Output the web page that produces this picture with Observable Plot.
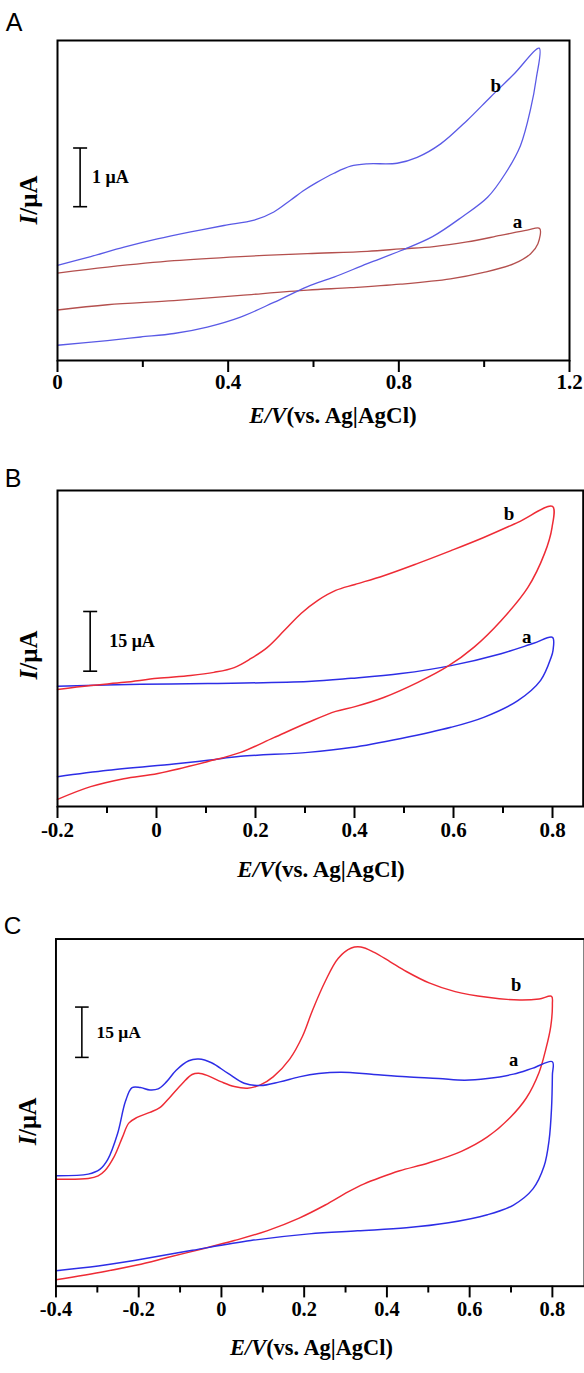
<!DOCTYPE html>
<html><head><meta charset="utf-8">
<script src="https://cdn.jsdelivr.net/npm/d3@7"></script>
<script src="https://cdn.jsdelivr.net/npm/@observablehq/plot@0.6"></script>
<style>
body{margin:0;background:#fff}
#wrap{width:584px;height:1373px;overflow:hidden;position:relative;background:#fff}
#wrap svg{position:absolute;left:0;display:block}
</style></head><body><div id="wrap"></div>
<script>
// ---------- Panel A data ----------
const aMajor = [0, 0.4, 0.8, 1.2];
const aMajorLabels = ["0", "0.4", "0.8", "1.2"];
const aMinor = [0.2, 0.6, 1.0];
const aB_E = [0, 0.078, 0.156, 0.234, 0.312, 0.390, 0.461, 0.507, 0.546, 0.578, 0.607, 0.648, 0.687, 0.726, 0.796, 0.843, 0.898, 0.960, 1.015, 1.070, 1.129, 1.122, 1.109, 1.085, 1.050, 1.008, 0.949, 0.879, 0.804, 0.726, 0.648, 0.586, 0.507, 0.429, 0.351, 0.273, 0.195, 0.117, 0];
const aB_I = [1.62, 1.77, 1.93, 2.07, 2.19, 2.30, 2.39, 2.53, 2.73, 2.90, 3.03, 3.19, 3.31, 3.35, 3.36, 3.46, 3.69, 4.09, 4.49, 4.88, 5.32, 4.80, 4.29, 3.66, 3.19, 2.78, 2.45, 2.11, 1.87, 1.65, 1.42, 1.26, 0.99, 0.74, 0.57, 0.46, 0.40, 0.34, 0.26];
const aA_E = [0, 0.117, 0.273, 0.429, 0.586, 0.726, 0.804, 0.882, 0.960, 1.038, 1.101, 1.130, 1.126, 1.109, 1.070, 0.999, 0.921, 0.804, 0.687, 0.586, 0.429, 0.273, 0.117, 0];
const aA_I = [1.49, 1.59, 1.70, 1.77, 1.82, 1.86, 1.90, 1.94, 2.02, 2.13, 2.22, 2.25, 1.99, 1.82, 1.65, 1.50, 1.39, 1.30, 1.24, 1.20, 1.11, 1.02, 0.95, 0.86];
const aBar = {E: 0.053, I0: 2.62, len: 1, label: "1 μA"};
const aCurveLabels = [{t: "b", E: 1.027, I: 4.685}, {t: "a", E: 1.078, I: 2.368}];

// ---------- Panel B data ----------
const bMajor = [-0.2, 0, 0.2, 0.4, 0.6, 0.8];
const bMajorLabels = ["-0.2", "0", "0.2", "0.4", "0.6", "0.8"];
const bMinor = [-0.1, 0.1, 0.3, 0.5, 0.7];
const bB_E = [-0.200, -0.133, -0.065, 0.002, 0.069, 0.116, 0.157, 0.191, 0.224, 0.258, 0.292, 0.326, 0.362, 0.401, 0.459, 0.528, 0.595, 0.661, 0.730, 0.800, 0.799, 0.784, 0.750, 0.696, 0.641, 0.588, 0.528, 0.459, 0.401, 0.362, 0.306, 0.237, 0.170, 0.104, 0.003, -0.066, -0.133, -0.200];
const bB_I = [29.4, 30.4, 31.2, 32.2, 32.9, 33.7, 34.9, 37.2, 40.0, 44.2, 48.5, 51.8, 54.3, 55.8, 58.0, 61.1, 64.3, 67.6, 71.4, 75.4, 70.1, 63.6, 55.0, 46.7, 40.0, 35.2, 31.2, 27.4, 25.1, 23.9, 21.1, 17.3, 13.6, 11.3, 8.3, 7.0, 5.0, 1.8];
const bA_E = [-0.200, -0.032, 0.104, 0.306, 0.393, 0.494, 0.595, 0.696, 0.762, 0.800, 0.801, 0.797, 0.776, 0.730, 0.661, 0.595, 0.494, 0.393, 0.306, 0.170, 0.104, 0.035, -0.098, -0.200];
const bA_I = [30.2, 30.7, 30.9, 31.4, 32.2, 33.4, 35.4, 38.4, 41.0, 42.5, 39.2, 37.4, 31.7, 26.6, 22.4, 19.9, 17.1, 14.8, 13.6, 12.6, 11.6, 10.7, 9.1, 7.5];
const bBar = {E: -0.134, I0: 34.0, len: 15, label: "15 μA"};
const bCurveLabels = [{t: "b", E: 0.712, I: 73.6}, {t: "a", E: 0.748, I: 42.7}];

// ---------- Panel C data ----------
const cMajor = [-0.4, -0.2, 0, 0.2, 0.4, 0.6, 0.8];
const cMajorLabels = ["-0.4", "-0.2", "0", "0.2", "0.4", "0.6", "0.8"];
const cMinor = [-0.3, -0.1, 0.1, 0.3, 0.5, 0.7];
const cB_E = [-0.400, -0.322, -0.298, -0.282, -0.259, -0.239, -0.224, -0.204, -0.173, -0.149, -0.126, -0.094, -0.071, -0.055, -0.032, 0.000, 0.031, 0.063, 0.094, 0.125, 0.165, 0.196, 0.220, 0.251, 0.282, 0.314, 0.337, 0.368, 0.408, 0.447, 0.502, 0.565, 0.643, 0.721, 0.768, 0.798, 0.800, 0.796, 0.784, 0.768, 0.737, 0.698, 0.643, 0.580, 0.502, 0.431, 0.384, 0.345, 0.306, 0.251, 0.188, 0.110, 0.031, -0.047, -0.126, -0.204, -0.282, -0.400];
const cB_I = [31.9, 32.1, 32.9, 34.4, 38.7, 44.5, 48.6, 50.3, 51.8, 53.2, 56.1, 60.5, 63.1, 63.5, 62.7, 60.9, 59.5, 59.0, 60.0, 62.4, 67.7, 74.5, 82.2, 90.9, 97.7, 100.8, 101.1, 99.6, 96.7, 93.8, 90.4, 87.8, 86.1, 85.3, 85.6, 86.4, 84.1, 77.4, 70.6, 63.8, 56.1, 50.3, 44.5, 40.2, 36.8, 34.4, 32.4, 30.5, 28.1, 24.2, 20.3, 16.5, 13.6, 11.1, 8.7, 6.3, 4.4, 1.9];
const cA_E = [-0.400, -0.322, -0.294, -0.275, -0.251, -0.232, -0.216, -0.196, -0.173, -0.153, -0.133, -0.110, -0.079, -0.055, -0.024, 0.016, 0.055, 0.094, 0.141, 0.188, 0.235, 0.290, 0.368, 0.447, 0.525, 0.588, 0.643, 0.706, 0.753, 0.800, 0.800, 0.798, 0.792, 0.780, 0.753, 0.706, 0.643, 0.549, 0.447, 0.329, 0.212, 0.071, -0.070, -0.204, -0.298, -0.400];
const cA_I = [32.9, 33.4, 34.8, 37.7, 45.5, 55.1, 59.2, 59.2, 58.5, 58.8, 60.9, 64.3, 67.2, 67.7, 66.6, 63.4, 60.5, 59.8, 60.9, 62.4, 63.4, 63.8, 63.1, 62.4, 61.9, 61.4, 61.9, 63.2, 65.0, 66.9, 62.9, 53.2, 43.5, 35.8, 29.0, 24.2, 21.3, 18.9, 17.4, 16.5, 15.6, 13.6, 10.7, 7.8, 6.0, 4.6];
const cBar = {E: -0.3374, I0: 68.2, len: 15, label: "15 μA"};
const cCurveLabels = [{t: "b", E: 0.7125, I: 89.8}, {t: "a", E: 0.7066, I: 67.5}];

const zip = (E, I) => E.map((e, i) => ({E: e, I: I[i]}));
const serif = "'Liberation Serif','Times New Roman',serif";

function panel(cfg) {
  const mL = 57;
  const plotW = cfg.width - mL - cfg.mR;
  const capE = 7 * (cfg.xDomain[1] - cfg.xDomain[0]) / plotW;
  const bar = cfg.bar;
  const svg = Plot.plot({
    width: cfg.width, height: cfg.height,
    marginLeft: mL, marginRight: cfg.mR, marginTop: cfg.mT, marginBottom: cfg.mB,
    style: {fontFamily: serif, fontSize: "20px", fontWeight: "bold", color: "black", background: "transparent", overflow: "visible"},
    x: {domain: cfg.xDomain, axis: null},
    y: {domain: cfg.yDomain, axis: null},
    marks: [
      Plot.axisX(cfg.minor, {tickSize: 7, strokeWidth: 2, tickFormat: () => "", label: null}),
      Plot.axisX(cfg.major, {tickSize: 12, strokeWidth: 2, tickFormat: () => "", label: null}),
      Plot.text(cfg.major, {x: d => d, text: (d, i) => cfg.majorLabels[i], frameAnchor: "bottom", dy: cfg.labelDy,
        fontSize: 21, fontWeight: "bold", fontFamily: serif}),
      ...cfg.curves.map(c => Plot.line(zip(c.E, c.I), {x: "E", y: "I", stroke: c.color, strokeWidth: c.w, curve: "catmull-rom"})),
      Plot.link([bar], {x1: "E", x2: "E", y1: "I0", y2: d => d.I0 + d.len, stroke: "black", strokeWidth: 1.6}),
      Plot.link([bar.I0, bar.I0 + bar.len], {x1: () => bar.E - capE, x2: () => bar.E + capE, y1: d => d, y2: d => d, stroke: "black", strokeWidth: 1.6}),
      Plot.text([bar], {x: "E", y: d => d.I0 + d.len / 2, text: "label", textAnchor: "start", dx: cfg.barDx, fontSize: 18, fontWeight: "bold"}),
      Plot.text(cfg.curveLabels, {x: "E", y: "I", text: "t", fontSize: 19, fontWeight: "bold"}),
      Plot.frame({stroke: "black", strokeWidth: 2})
    ]
  });
  svg.style.top = cfg.top + "px";
  const s = d3.select(svg);
  s.append("text").attr("x", cfg.letterX).attr("y", cfg.letterY)
    .attr("font-family", "'Liberation Sans',Arial,sans-serif").attr("font-size", 25).attr("font-weight", "normal")
    .text(cfg.letter);
  const yt = s.append("text").attr("transform", `translate(${cfg.yTitle[0]},${cfg.yTitle[1]}) rotate(-90)`)
    .attr("text-anchor", "middle").attr("dy", "0.35em").attr("font-size", 25).attr("font-weight", "bold");
  yt.append("tspan").attr("font-style", "italic").text("I");
  yt.append("tspan").text("/μA");
  const xt = s.append("text").attr("x", cfg.xTitle[0]).attr("y", cfg.xTitle[1])
    .attr("text-anchor", "middle").attr("dy", "0.35em").attr("font-size", 23).attr("font-weight", "bold");
  xt.append("tspan").attr("font-style", "italic").text("E/V");
  xt.append("tspan").text("(vs. Ag|AgCl)");
  document.getElementById("wrap").appendChild(svg);
}

panel({
  top: 0, width: 584, height: 435, mR: 15, mT: 40, mB: 75,
  xDomain: [0, 1.2], yDomain: [0, 5.4514],
  major: aMajor, majorLabels: aMajorLabels, minor: aMinor, labelDy: 28,
  curves: [
    {E: aA_E, I: aA_I, color: "#b4504e", w: 1.3},
    {E: aB_E, I: aB_I, color: "#5a5ae6", w: 1.3}
  ],
  bar: aBar, barDx: 12, curveLabels: aCurveLabels,
  letter: "A", letterX: 14, letterY: 31, yTitle: [28, 200], xTitle: [333, 415]
});
panel({
  top: 435, width: 584, height: 450, mR: 1.3, mT: 55, mB: 79,
  xDomain: [-0.2, 0.862], yDomain: [0, 79.40],
  major: bMajor, majorLabels: bMajorLabels, minor: bMinor, labelDy: 30,
  curves: [
    {E: bA_E, I: bA_I, color: "#2d2de6", w: 1.5},
    {E: bB_E, I: bB_I, color: "#ee2b35", w: 1.5}
  ],
  bar: bBar, barDx: 19, curveLabels: bCurveLabels,
  letter: "B", letterX: 13, letterY: 52, yTitle: [28, 220], xTitle: [321, 434]
});
panel({
  top: 885, width: 600, height: 488, mR: 0, mT: 55, mB: 76.3,
  xDomain: [-0.4, 0.8776], yDomain: [0, 103.48],
  major: cMajor, majorLabels: cMajorLabels, minor: cMinor, labelDy: 31,
  curves: [
    {E: cB_E, I: cB_I, color: "#ee2b35", w: 1.5},
    {E: cA_E, I: cA_I, color: "#2d2de6", w: 1.5}
  ],
  bar: cBar, barDx: 15, curveLabels: cCurveLabels,
  letter: "C", letterX: 13, letterY: 50, yTitle: [28, 243], xTitle: [320, 475]
});
</script></body></html>
